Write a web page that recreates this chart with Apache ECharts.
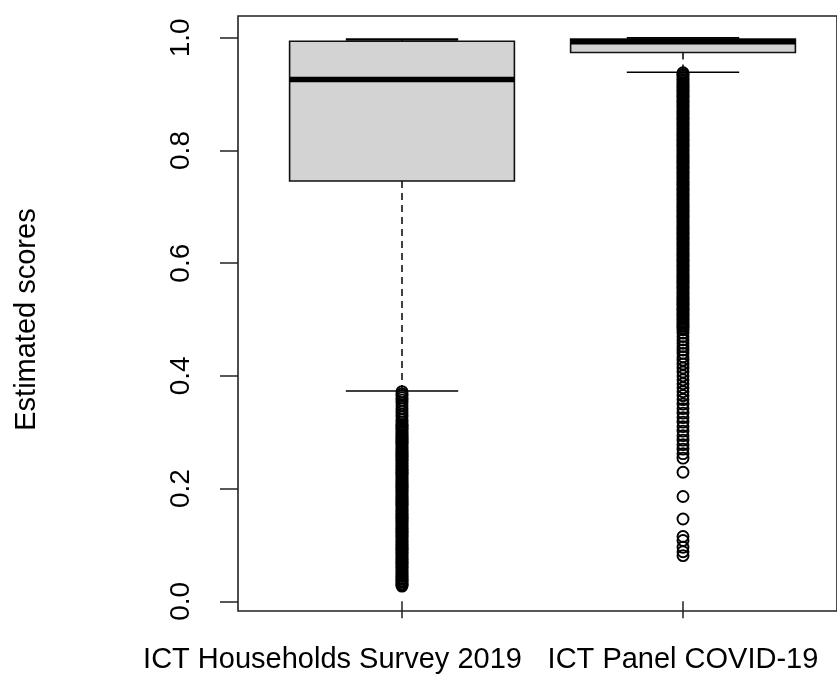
<!DOCTYPE html>
<html>
<head>
<meta charset="utf-8">
<script src="https://cdn.jsdelivr.net/npm/echarts@6/dist/echarts.min.js"></script>
<style>
  html, body { margin: 0; padding: 0; background: #fff; }
  #chart { width: 837px; height: 674px; }
</style>
</head>
<body>
<div id="chart"></div>
<script>
// groups on the x axis
const categories = ['ICT Households Survey 2019', 'ICT Panel COVID-19'];

// box statistics
const lowWhisker = [0.373, 0.939];
const q1 = [0.746, 0.974];
const median = [0.926, 0.993];
const q3 = [0.994, 0.998];
const highWhisker = [0.997, 0.999];

// outliers (circles), group 1
const outliers2019 = [
  0.372, 0.368, 0.365, 0.361, 0.357, 0.352, 0.347, 0.342, 0.337, 0.332, 0.327, 0.322, 0.318,
  0.314, 0.311, 0.309, 0.306, 0.304, 0.301, 0.299, 0.296, 0.294, 0.291, 0.289, 0.286,
  0.284, 0.281, 0.279, 0.276, 0.274, 0.271, 0.269, 0.266, 0.264, 0.261, 0.259, 0.256,
  0.254, 0.251, 0.249, 0.246, 0.244, 0.241, 0.239, 0.236, 0.234, 0.231, 0.229, 0.226,
  0.224, 0.221, 0.219, 0.216, 0.214, 0.211, 0.209, 0.206, 0.204, 0.201, 0.199, 0.196,
  0.194, 0.191, 0.189, 0.186, 0.184, 0.181, 0.179, 0.176, 0.174, 0.171, 0.169, 0.166,
  0.164, 0.161, 0.159, 0.156, 0.154, 0.151, 0.149, 0.146, 0.144, 0.141, 0.139, 0.136,
  0.134, 0.131, 0.129, 0.126, 0.124, 0.121, 0.119, 0.116, 0.114, 0.111, 0.109, 0.106,
  0.104, 0.101, 0.099, 0.096, 0.094, 0.091, 0.089, 0.086, 0.084, 0.081, 0.079, 0.076,
  0.074, 0.071, 0.069, 0.066, 0.064, 0.061, 0.059, 0.056, 0.054, 0.051, 0.049, 0.046,
  0.044, 0.041, 0.039, 0.036, 0.034, 0.031, 0.029, 0.027
];

// outliers (circles), group 2
const outliersPanel = [
  0.938, 0.935, 0.932, 0.929, 0.926, 0.923, 0.920, 0.917, 0.914, 0.911, 0.908, 0.905,
  0.902, 0.899, 0.896, 0.893, 0.890, 0.887, 0.884, 0.881, 0.878, 0.875, 0.872, 0.869,
  0.866, 0.863, 0.860, 0.857, 0.854, 0.851, 0.848, 0.845, 0.842, 0.839, 0.836, 0.833,
  0.830, 0.827, 0.824, 0.821, 0.818, 0.815, 0.812, 0.809, 0.806, 0.803, 0.800, 0.797,
  0.794, 0.791, 0.788, 0.785, 0.782, 0.779, 0.776, 0.773, 0.770, 0.767, 0.764, 0.761,
  0.758, 0.755, 0.752, 0.749, 0.746, 0.743, 0.740, 0.737, 0.734, 0.731, 0.728, 0.725,
  0.722, 0.719, 0.716, 0.713, 0.710, 0.707, 0.704, 0.701, 0.698, 0.695, 0.692, 0.689,
  0.686, 0.683, 0.680, 0.677, 0.674, 0.671, 0.668, 0.665, 0.662, 0.659, 0.656, 0.653,
  0.650, 0.647, 0.644, 0.641, 0.638, 0.635, 0.632, 0.629, 0.626, 0.623, 0.620, 0.617,
  0.614, 0.611, 0.608, 0.605, 0.602, 0.599, 0.596, 0.593, 0.590, 0.587, 0.584, 0.581,
  0.578, 0.575, 0.572, 0.569, 0.566, 0.563, 0.560, 0.557, 0.554, 0.551, 0.548, 0.545,
  0.542, 0.539, 0.536, 0.533, 0.530, 0.527, 0.524, 0.521, 0.518, 0.515, 0.512, 0.509,
  0.506, 0.503, 0.500, 0.497, 0.494, 0.491, 0.488, 0.485, 0.482,
  0.476, 0.470, 0.464, 0.458, 0.452, 0.446, 0.440, 0.434, 0.428, 0.421, 0.414, 0.407,
  0.400, 0.393, 0.386, 0.379, 0.372, 0.365, 0.358, 0.350, 0.342, 0.334, 0.326, 0.318,
  0.310, 0.302, 0.294, 0.286, 0.278, 0.270, 0.262, 0.254,
  0.229, 0.186, 0.146, 0.115, 0.108, 0.096, 0.088, 0.081
];

const FONT = '"Liberation Sans", Arial, sans-serif';

const boxData = categories.map((c, i) => [i, lowWhisker[i], q1[i], median[i], q3[i], highWhisker[i]]);
const outlierData = [];
outliers2019.forEach(v => outlierData.push([0, v]));
outliersPanel.forEach(v => outlierData.push([1, v]));

const chart = echarts.init(document.getElementById('chart'), null, { renderer: 'canvas' });

function renderBox(params, api) {
  const i = api.value(0);
  const pLow = api.coord([i, api.value(1)]);
  const pQ1 = api.coord([i, api.value(2)]);
  const pMed = api.coord([i, api.value(3)]);
  const pQ3 = api.coord([i, api.value(4)]);
  const pHigh = api.coord([i, api.value(5)]);
  const band = api.size([1, 0])[0];
  const half = band * 0.4;
  const staple = band * 0.2;
  const x = pQ1[0];
  const line = { stroke: '#000', lineWidth: 1.5 };
  const dashed = { stroke: '#000', lineWidth: 1.5, lineDash: [7, 5] };
  return {
    type: 'group',
    children: [
      { type: 'line', shape: { x1: x, y1: pQ1[1], x2: x, y2: pLow[1] }, style: dashed },
      { type: 'line', shape: { x1: x, y1: pQ3[1], x2: x, y2: pHigh[1] }, style: dashed },
      { type: 'line', shape: { x1: x - staple, y1: pLow[1], x2: x + staple, y2: pLow[1] }, style: line },
      { type: 'line', shape: { x1: x - staple, y1: pHigh[1], x2: x + staple, y2: pHigh[1] }, style: { stroke: '#000', lineWidth: 2.5 } },
      { type: 'rect', shape: { x: x - half, y: pQ3[1], width: half * 2, height: pQ1[1] - pQ3[1] },
        style: { fill: '#d3d3d3', stroke: '#111', lineWidth: 1.6 } },
      { type: 'line', shape: { x1: x - half, y1: pMed[1], x2: x + half, y2: pMed[1] },
        style: { stroke: '#000', lineWidth: 5.5 } }
    ]
  };
}

const option = {
  animation: false,
  backgroundColor: '#fff',
  grid: [
    // plot frame
    { left: 238, right: -10, top: 16, bottom: 63, show: true, borderColor: '#222', borderWidth: 1.6, backgroundColor: 'transparent' },
    // data region
    { left: 261.5, right: 13.5, top: 37.8, bottom: 71.7 }
  ],
  xAxis: [
    { gridIndex: 0, type: 'value', show: false, min: 0, max: 1 },
    {
      gridIndex: 1, type: 'category', boundaryGap: true, offset: 8.7,
      data: [
        { value: categories[0], textStyle: { padding: [0, 139, 0, 0] } },
        categories[1]
      ],
      axisLine: { show: false },
      axisTick: { show: true, alignWithLabel: true, length: 17, lineStyle: { color: '#222', width: 1.5 } },
      axisLabel: { color: '#000', fontFamily: FONT, fontSize: 29, margin: 35, interval: 0 },
      splitLine: { show: false }
    }
  ],
  yAxis: [
    { gridIndex: 0, type: 'value', show: false, min: 0, max: 1 },
    {
      gridIndex: 1, type: 'value', min: 0, max: 1, interval: 0.2, offset: 23.5,
      name: 'Estimated scores', nameLocation: 'middle', nameGap: 197,
      nameTextStyle: { color: '#000', fontFamily: FONT, fontSize: 29 },
      axisLine: { show: false },
      axisTick: { show: true, length: 18, lineStyle: { color: '#222', width: 1.5 } },
      axisLabel: { color: '#000', fontFamily: FONT, fontSize: 28, rotate: 90, margin: 43,
        formatter: v => v.toFixed(1) },
      splitLine: { show: false }
    }
  ],
  series: [
    {
      type: 'custom', xAxisIndex: 1, yAxisIndex: 1,
      renderItem: renderBox,
      encode: { x: 0, y: [1, 2, 3, 4, 5] },
      data: boxData
    },
    {
      type: 'scatter', xAxisIndex: 1, yAxisIndex: 1,
      symbol: 'circle', symbolSize: 11,
      itemStyle: { color: 'transparent', borderColor: '#000', borderWidth: 1.9, opacity: 1 },
      emphasis: { disabled: true },
      data: outlierData
    }
  ]
};

chart.setOption(option);
</script>
</body>
</html>
